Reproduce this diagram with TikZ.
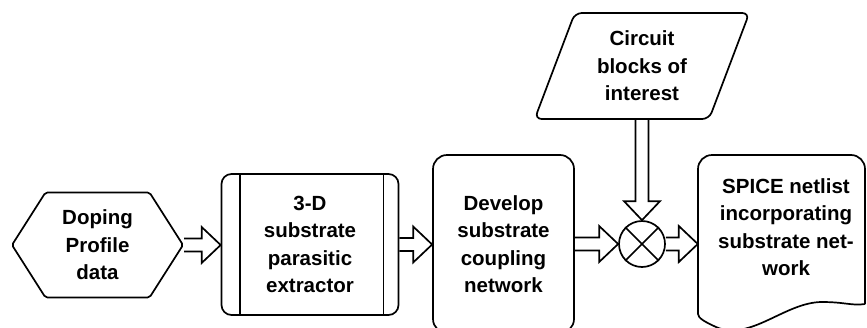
\documentclass[tikz,border=0pt]{standalone}
\usepackage{fontspec}
\setmainfont{Liberation Sans}
\usetikzlibrary{shapes.geometric, shapes.symbols, calc}

\tikzset{
  lbl/.style={font=\bfseries\fontsize{20.5}{27.5}\selectfont, align=center, inner sep=0pt},
  outline/.style={line width=1.7pt},
  hexbox/.style={lbl, outline, draw, signal, signal to=east and west,
    signal pointer angle=115, minimum width=171, minimum height=105, rounded corners=2},
  procbox/.style={lbl, outline, draw, rectangle, rounded corners=10,
    minimum width=177, minimum height=141},
  roundbox/.style={lbl, outline, draw, rectangle, rounded corners=14,
    minimum width=141, minimum height=178},
  inputbox/.style={lbl, outline, draw, trapezium, trapezium left angle=69,
    trapezium right angle=111, trapezium stretches, minimum width=215,
    minimum height=106, rounded corners=7},
  mixer/.style={outline, draw, circle, minimum size=46, inner sep=0pt},
  blockarrow/.style={outline, line join=miter, to path={
    let \p1=(\tikztostart), \p2=(\tikztotarget),
        \n1={atan2(\y2-\y1,\x2-\x1)}, \n2={veclen(\x2-\x1,\y2-\y1)} in
    [shift={(\p1)}, rotate=\n1]
    (0pt,6.5pt) -- ({\n2-19pt},6.5pt) -- ({\n2-19pt},18pt) -- ({\n2+0pt},0pt)
    -- ({\n2-19pt},-18pt) -- ({\n2-19pt},-6.5pt) -- (0pt,-6.5pt)}}
}

\begin{document}
\begin{tikzpicture}[x=1pt, y=-1pt]
  \useasboundingbox (0,0) rectangle (867,327);

  % boxes
  \node[hexbox] (doping) at (97.5,245) {Doping\\Profile\\data};
  \node[procbox] (extract) at (310,244.5) {3-D\\substrate\\parasitic\\extractor};
  \draw[outline] ([xshift=19]extract.north west) -- ([xshift=19]extract.south west);
  \draw[outline] ([xshift=-16]extract.north east) -- ([xshift=-16]extract.south east);
  \node[roundbox] (develop) at (503.5,244) {Develop\\substrate\\coupling\\network};
  \node[mixer] (mix) at (642,244) {};
  \draw[outline] (mix.north west) -- (mix.south east) (mix.north east) -- (mix.south west);
  \node[inputbox] (blocks) at (642,66) {Circuit\\blocks of\\interest};

  % document shape
  \node[minimum width=167, minimum height=172, inner sep=0pt] (spice) at (781.5,241) {};
  \draw[outline, rounded corners=14] (865,304) -- (865,155) -- (698,155) -- (698,300)
    [sharp corners] .. controls (698,318) and (705,322) .. (716,327)
    .. controls (750,342) and (785,302) .. (822,302)
    .. controls (845,302) and (852,306) .. (865,304);
  \node[lbl] (spicetxt) at (786,227) {SPICE netlist\\incorporating\\substrate net-\\work};

  % flow
  \draw[blockarrow] (doping.east) to (extract.west |- doping.east);
  \draw[blockarrow] (extract.east) to (develop.west |- extract.east);
  \draw[blockarrow] (develop.east |- mix.west) to (mix.west);
  \draw[blockarrow] (mix.east) to (spice.west |- mix.east);
  \draw[blockarrow] (blocks.south) to (mix.north);
\end{tikzpicture}
\end{document}
